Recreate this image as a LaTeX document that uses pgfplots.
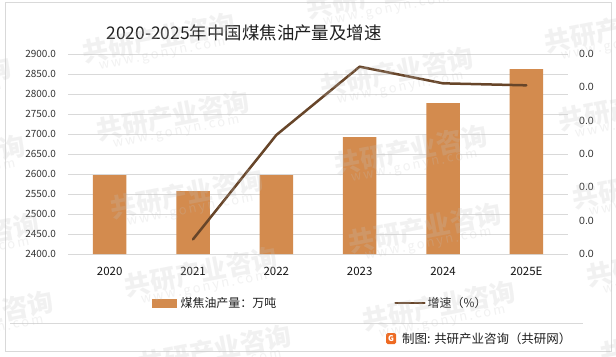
\documentclass[border=0pt]{standalone}
\usepackage{pgfplots}
\pgfplotsset{compat=1.18}
\usepackage{fontspec}
\setmainfont{Noto Sans CJK SC}
\newfontfamily\arialf{Liberation Sans}
\definecolor{barc}{HTML}{D38B4E}
\definecolor{linec}{HTML}{674529}
\definecolor{gridc}{HTML}{D9D9D9}
\definecolor{framec}{HTML}{D9D9D9}
\definecolor{wmc}{RGB}{195,195,195}
\definecolor{logoc}{HTML}{EE6A22}
\newcommand\wm[2]{\node[rotate=11,text=wmc,opacity=0.22,align=center,inner sep=0pt] at (#1,{356-#2}) {{\fontsize{26}{30}\selectfont\bfseries 共研产业咨询}\\[-2bp]{\fontsize{13}{15}\selectfont w\,w\,w\,.\,g\,o\,n\,y\,n\,.\,c\,o\,m}};}
\begin{document}
\begin{tikzpicture}[x=1bp,y=1bp]
\path[use as bounding box, fill=white] (0,0) rectangle (616,356);
\draw[framec, line width=1bp] (5,5) rectangle (611,353);
\draw[framec, line width=1bp] (10,33) -- (583,33);
\node[font=\fontsize{17.5}{20}\selectfont, text=black!88] at (244,323) {2020-2025年中国煤焦油产量及增速};
\begin{axis}[
  at={(68bp,102bp)}, anchor=south west,
  scale only axis, width=500bp, height=200bp,
  xmin=-0.5, xmax=5.5, ymin=2400, ymax=2900,
  xtick={0,1,2,3,4,5},
  xticklabels={2020,2021,2022,2023,2024,2025E},
  ytick={2400,2450,2500,2550,2600,2650,2700,2750,2800,2850,2900},
  yticklabels={2400.0,2450.0,2500.0,2550.0,2600.0,2650.0,2700.0,2750.0,2800.0,2850.0,2900.0},
  ymajorgrids, grid style={gridc, line width=0.9bp},
  axis line style={draw=none},
  major tick length=0pt, tick style={draw=none},
  yticklabel shift=12bp, xticklabel shift=13bp,
  yticklabel style={inner sep=0pt, anchor=east, font=\fontsize{10}{12}\selectfont, text=black!80},
  xticklabel style={inner sep=0pt, anchor=north, font=\fontsize{11.5}{13}\selectfont, text=black!92},
  clip=false,
]
\addplot[ybar, bar width=33.5bp, fill=barc, draw=none] coordinates {
  (0,2597) (1,2557) (2,2597) (3,2692) (4,2777) (5,2862)};
\end{axis}
\begin{axis}[
  at={(68bp,102bp)}, anchor=south west,
  scale only axis, width=500bp, height=200bp,
  xmin=-0.5, xmax=5.5, ymin=-0.02, ymax=0.04,
  axis y line*=right, axis x line=none,
  axis line style={draw=none},
  scaled y ticks=false,
  ytick={-0.02,-0.01,0,0.01,0.02,0.03,0.04},
  yticklabels={0.0,0.0,0.0,0.0,0.0,0.0,0.0},
  major tick length=0pt, tick style={draw=none},
  yticklabel shift=11bp,
  yticklabel style={inner sep=0pt, anchor=west, font=\arialf\fontsize{10.5}{12}\selectfont, text=black!80},
  clip=false,
  legend columns=2,
  legend style={at={(axis description cs:0.168,-0.245)}, anchor=west, draw=none, fill=none, inner sep=0pt,
    nodes={inner sep=0pt, font=\fontsize{12}{14}\selectfont, text=black!88},
    /tikz/every even column/.style={column sep=118bp}},
]
\addlegendimage{legend image code/.code={\fill[barc] (0bp,-4bp) rectangle (24bp,4bp); \path (28bp,0bp);}}
\addlegendentry{煤焦油产量：万吨}
\addplot[linec, line width=2.5bp, line join=round, line cap=round,
  legend image code/.code={\draw[linec, line width=2.5bp] (0bp,0bp) -- (29bp,0bp); \path (31bp,0bp);}]
  coordinates {(1,-0.0156) (2,0.0157) (3,0.0362) (4,0.0312) (5,0.0306)};
\addlegendentry{增速（\%）}
\end{axis}
\fill[logoc, rounded corners=1.5bp] (386,12) rectangle (396,23);
\node[text=white, font=\fontsize{8}{9}\selectfont\bfseries, inner sep=0pt] at (391,17.5) {G};
\node[anchor=west, inner sep=0pt, font=\fontsize{12.5}{14}\selectfont, text=black!88] at (402,17.5) {制图: 共研产业咨询（共研网）};
% watermarks
\wm{622}{33}\wm{636}{111}\wm{650}{189}\wm{664}{267}\wm{678}{345}
\wm{384}{-1}\wm{398}{77}\wm{412}{155}\wm{426}{233}\wm{440}{311}
\wm{160}{43}\wm{174}{121}\wm{188}{199}\wm{202}{277}\wm{216}{355}
\wm{-64}{87}\wm{-50}{165}\wm{-36}{243}\wm{-22}{321}
\end{tikzpicture}
\end{document}
